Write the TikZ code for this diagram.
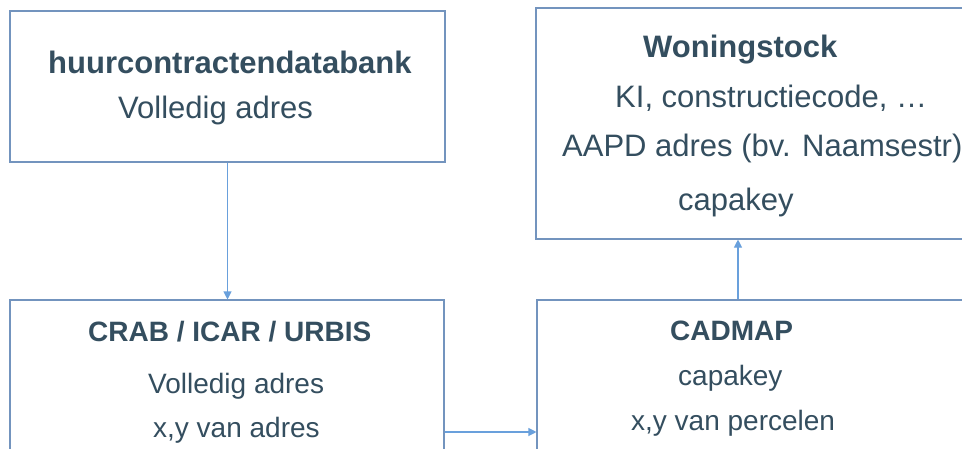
\documentclass[tikz,border=0pt]{standalone}
\usepackage{fontspec}
\setmainfont{Liberation Sans}
\usetikzlibrary{arrows.meta}
\definecolor{txt}{RGB}{52,78,95}
\definecolor{boxline}{RGB}{115,148,190}
\definecolor{arrline}{RGB}{105,160,220}
\tikzset{
  box/.style={draw=boxline, line width=1.1pt, fill=white, inner sep=0pt},
  big/.style={text=txt, inner sep=0pt, anchor=base west, font=\fontsize{31}{37}\selectfont},
  bigb/.style={big, font=\fontsize{31}{37}\selectfont\bfseries},
  small/.style={text=txt, inner sep=0pt, anchor=base west, font=\fontsize{28}{34}\selectfont},
  smallb/.style={small, font=\fontsize{28}{34}\selectfont\bfseries},
  arr/.style={draw=arrline, line width=1.1pt, -{Triangle[length=8pt,width=8pt]}}
}
\begin{document}
\begin{tikzpicture}[x=1pt,y=1pt]
\useasboundingbox (0,0) rectangle (962,-448);
\clip (0,0) rectangle (962,-448);
\fill[white] (0,0) rectangle (962,-448);
% boxes
\node[box, minimum width=435pt, minimum height=151pt] (b1) at (227.5,-86.5) {};
\node[box, minimum width=440pt, minimum height=231pt] (b2) at (756,-123.5) {};
\node[box, minimum width=434pt, minimum height=200pt] (b3) at (227,-400) {};
\node[box, minimum width=440pt, minimum height=200pt] (b4) at (757,-400) {};
% texts box 1
\node[bigb] (t1a) at (48,-73) {huurcontractendatabank};
\node[big] (t1b) at (118,-118) {Volledig adres};
% texts box 2
\node[bigb] (t2a) at (643,-57) {Woningstock};
\node[big] (t2b) at (615,-107) {KI, constructiecode, …};
\node[big] (t2c) at (562,-156) {AAPD adres (bv. Naamsestr)};
\node[big] (t2d) at (678,-210) {capakey};
% texts box 3
\node[smallb] (t3a) at (88,-341) {CRAB / ICAR / URBIS};
\node[small] (t3b) at (148,-393) {Volledig adres};
\node[small] (t3c) at (153,-437) {x,y van adres};
% texts box 4
\node[smallb] (t4a) at (670,-340) {CADMAP};
\node[small] (t4b) at (678,-385) {capakey};
\node[small] (t4c) at (631,-430) {x,y van percelen};
% connectors
\coordinate (ya) at (0,-432);
\coordinate (xa) at (738,0);
\draw[arr] (b1.south) -- (b1.south |- b3.north);
\draw[arr] (b3.east |- ya) -- (b4.west |- ya);
\draw[arr] (xa |- b4.north) -- (xa |- b2.south);
\end{tikzpicture}
\end{document}
